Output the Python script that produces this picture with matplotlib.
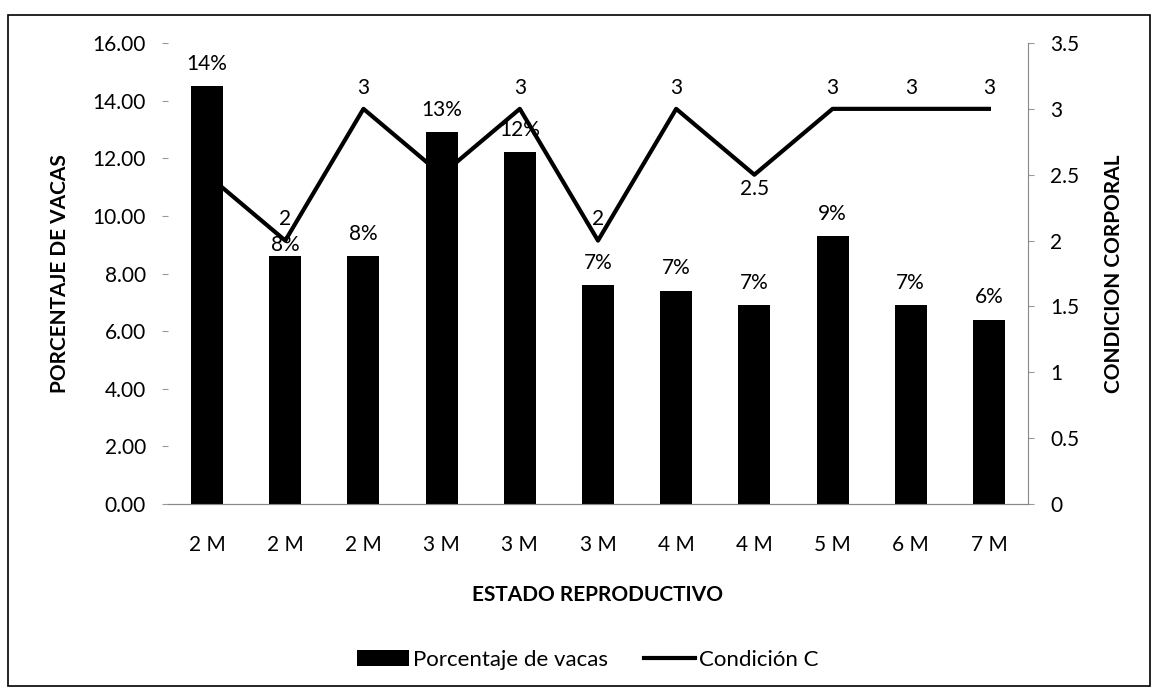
import matplotlib.pyplot as plt
import numpy as np
from matplotlib.patches import Rectangle
from matplotlib.ticker import FuncFormatter

plt.rcParams["font.family"] = ["Lato", "DejaVu Sans"]

# data
categories = ["2 M", "2 M", "2 M", "3 M", "3 M", "3 M", "4 M", "4 M", "5 M", "6 M", "7 M"]
porcentaje = [14.5, 8.6, 8.6, 12.9, 12.2, 7.6, 7.4, 6.9, 9.3, 6.9, 6.4]
porcentaje_labels = ["14%", "8%", "8%", "13%", "12%", "7%", "7%", "7%", "9%", "7%", "6%"]
condicion = [2.5, 2, 3, 2.5, 3, 2, 3, 2.5, 3, 3, 3]
condicion_labels = ["2.5", "2", "3", "2.5", "3", "2", "3", "2.5", "3", "3", "3"]
label_below = [False, False, False, False, False, False, False, True, False, False, False]

W, H = 1154, 697
fig = plt.figure(figsize=(W / 100, H / 100), dpi=100)
ax = fig.add_axes([168 / W, 1 - 504 / H, (1028 - 168) / W, (504 - 43) / H])
ax2 = ax.twinx()

x = np.arange(len(categories))

# bars drawn over the line, like in the original
ax.set_zorder(ax2.get_zorder() + 1)
ax.patch.set_visible(False)

bars = ax.bar(x, porcentaje, width=0.41, color="black")
for i, (xi, v, lab) in enumerate(zip(x, porcentaje, porcentaje_labels)):
    # the second label sits lower, right under the line point
    off = 1 if i == 1 else 9
    ax.annotate(lab, (xi, v), xytext=(0, off), textcoords="offset points",
                ha="center", va="bottom", fontsize=15)

line, = ax2.plot(x, condicion, color="black", lw=3)
for xi, v, lab, below in zip(x, condicion, condicion_labels, label_below):
    if below:
        ax2.annotate(lab, (xi, v), xytext=(0, -3), textcoords="offset points",
                     ha="center", va="top", fontsize=15)
    else:
        ax2.annotate(lab, (xi, v), xytext=(0, 8), textcoords="offset points",
                     ha="center", va="bottom", fontsize=15)

ax.set_xlim(-0.5, len(categories) - 0.5)
ax.set_ylim(0, 16)
ax.set_yticks(np.arange(0, 17, 2))
ax.yaxis.set_major_formatter(FuncFormatter(lambda v, p: f"{v:.2f}"))
ax2.set_ylim(0, 3.5)
ax2.set_yticks(np.arange(0, 3.6, 0.5))
ax2.yaxis.set_major_formatter(FuncFormatter(lambda v, p: f"{v:g}"))

ax.set_xticks(x)
ax.set_xticklabels(categories)
ax.tick_params(axis="x", length=0, labelsize=15, pad=22)
ax.tick_params(axis="y", length=4, color="#999999", labelsize=15, pad=12)
ax2.tick_params(axis="y", length=4, color="#999999", labelsize=15, pad=12)

for a in (ax, ax2):
    a.spines["top"].set_visible(False)
    a.spines["left"].set_visible(False)
ax.spines["right"].set_visible(False)
ax2.spines["right"].set_color("#888888")
ax2.spines["bottom"].set_color("#888888")
ax.spines["bottom"].set_color("#888888")

ax.set_xlabel("ESTADO REPRODUCTIVO", fontsize=15, fontweight="bold", labelpad=22)
ax.set_ylabel("PORCENTAJE DE VACAS", fontsize=15, fontweight="bold", labelpad=16)
ax2.set_ylabel("CONDICION CORPORAL", fontsize=15, fontweight="bold", labelpad=18)

fig.legend([bars, line], ["Porcentaje de vacas", "Condición C"],
           loc="center", bbox_to_anchor=(588 / W, 1 - 660 / H), ncol=2,
           frameon=False, fontsize=16, handlelength=2.3, handletextpad=0.2,
           columnspacing=1.6)

# outer chart frame
fig.patches.append(Rectangle((8 / W, 1 - 686 / H), (1150 - 8) / W, (686 - 15) / H,
                             transform=fig.transFigure, fill=False,
                             edgecolor="black", lw=1.2))

fig.savefig("out.png", dpi=100)
